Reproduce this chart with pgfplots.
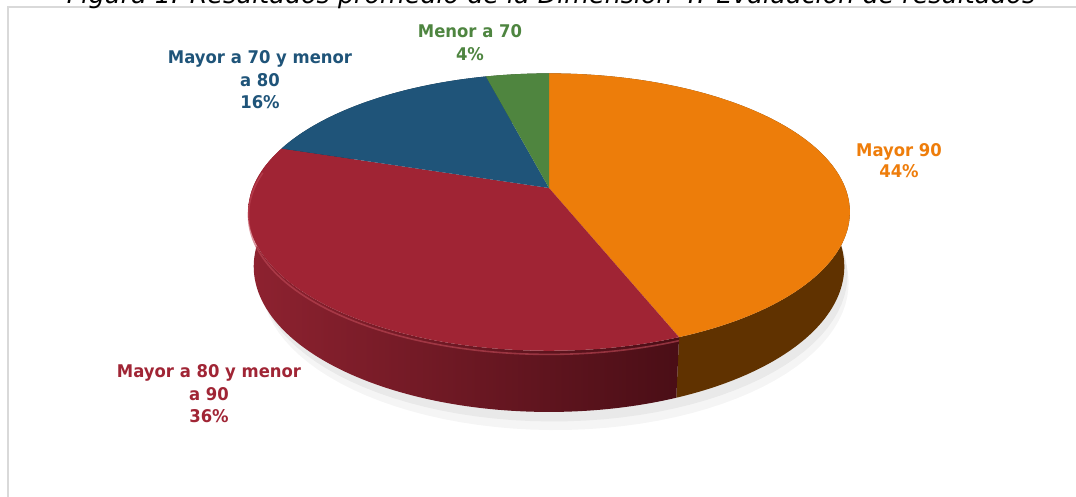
\documentclass[border=0pt]{standalone}
\usepackage{pgfplots}
\pgfplotsset{compat=1.18}
\usepackage{pgfplotstable}
\usepackage{fontspec}
\setmainfont{DejaVu Sans}
\newfontfamily\labfont[FakeStretch=0.94]{DejaVu Sans}
\definecolor{cOr}{HTML}{ED7D0A}
\definecolor{cOrSide}{HTML}{603200}
\definecolor{cRed}{HTML}{A02434}
\definecolor{cRedL}{HTML}{8E2230}
\definecolor{cRedD}{HTML}{4A0E16}
\definecolor{cRedHi}{HTML}{C04A58}
\definecolor{cBlue}{HTML}{1F5479}
\definecolor{cGreen}{HTML}{4F853F}
\definecolor{cFrame}{HTML}{D9D9D9}
\definecolor{tOr}{HTML}{EE7D0B}
\definecolor{tRed}{HTML}{A02535}
\definecolor{tBlue}{HTML}{1F5479}
\definecolor{tGreen}{HTML}{4E8540}
\tikzset{lab/.style={font=\labfont\bfseries\fontsize{8.75pt}{11pt}\selectfont, anchor=base, inner sep=0pt}}

% percentages, clockwise from 12 o'clock
\pgfplotstableread{
idx pct
0 44
1 36
2 16
3 4
}\piedata

\begin{document}
\begin{tikzpicture}
\pgfplotstablegetelem{0}{pct}\of\piedata \pgfmathsetmacro\pA{\pgfplotsretval}
\pgfplotstablegetelem{1}{pct}\of\piedata \pgfmathsetmacro\pB{\pgfplotsretval}
\pgfplotstablegetelem{2}{pct}\of\piedata \pgfmathsetmacro\pC{\pgfplotsretval}
\pgfplotstablegetelem{3}{pct}\of\piedata \pgfmathsetmacro\pD{\pgfplotsretval}
\pgfmathsetmacro\aZ{90}
\pgfmathsetmacro\aA{\aZ-3.6*\pA}
\pgfmathsetmacro\aB{\aA-3.6*\pB}
\pgfmathsetmacro\aC{\aB-3.6*\pC}
\pgfmathsetmacro\aD{\aC-3.6*\pD}
\begin{axis}[hide axis, scale only axis, width=538pt, height=248.5pt,
  xmin=0, xmax=1076, ymin=0, ymax=497, clip=false,
  declare function={
    rx(\p,\h)=549+1520*cos(\p)/(5.13+0.891*sin(\p)+0.454*\h);
    ry(\p,\h)=309+1520*(0.454*sin(\p)-0.891*\h)/(5.13+0.891*sin(\p)+0.454*\h);
    sp(\u,\a,\b)=\a+(\b-\a)*((\u<1.0001)?\u:min(1,(2-\u)*1.0101));
    sh(\u)=(\u<1.0001)?0:0.207;
  }]
\coordinate (SW) at (axis cs:0,0);
\coordinate (NE) at (axis cs:1076,497);
% frame
\draw[cFrame, line width=0.8pt] (axis cs:8,-20) -- (axis cs:8,490) -- (axis cs:1100,490);
% soft shadow
\addplot[draw=none, fill=black, opacity=0.04, domain=0:360, samples=120, variable=\t]
  ({rx(\t,0.27)+6},{ry(\t,0.27)}) -- cycle;
\addplot[draw=none, fill=black, opacity=0.05, domain=0:360, samples=120, variable=\t]
  ({rx(\t,0.24)+4},{ry(\t,0.24)}) -- cycle;
% sides
\addplot[draw=none, fill=cGreen!50!black, domain=0:2, samples=201, variable=\u]
  ({rx(sp(\u,\aD,\aC),sh(\u))},{ry(sp(\u,\aD,\aC),sh(\u))}) -- cycle;
\addplot[draw=none, fill=cBlue!50!black, domain=0:2, samples=201, variable=\u]
  ({rx(sp(\u,\aC,\aB),sh(\u))},{ry(sp(\u,\aC,\aB),sh(\u))}) -- cycle;
\addplot[draw=none, fill=cOrSide, domain=0:2, samples=201, variable=\u]
  ({rx(sp(\u,\aA,\aZ),sh(\u))},{ry(sp(\u,\aA,\aZ),sh(\u))}) -- cycle;
\addplot[draw=none, left color=cRedL, right color=cRedD, domain=0:2, samples=201, variable=\u]
  ({rx(sp(\u,\aB,\aA),sh(\u))},{ry(sp(\u,\aB,\aA),sh(\u))}) -- cycle;
% top faces
\addplot[draw=none, fill=cOr, domain=\aA:\aZ, samples=100, variable=\t]
  ({rx(\t,0)},{ry(\t,0)}) -- (axis cs:549,309) -- cycle;
\addplot[draw=none, fill=cRed, domain=\aB:\aA, samples=100, variable=\t]
  ({rx(\t,0)},{ry(\t,0)}) -- (axis cs:549,309) -- cycle;
\addplot[draw=none, fill=cBlue, domain=\aC:\aB, samples=50, variable=\t]
  ({rx(\t,0)},{ry(\t,0)}) -- (axis cs:549,309) -- cycle;
\addplot[draw=none, fill=cGreen, domain=\aD:\aC, samples=20, variable=\t]
  ({rx(\t,0)},{ry(\t,0)}) -- (axis cs:549,309) -- cycle;
% bevel highlight on front rim of red slice
\addplot[cRedHi, line width=0.8pt, opacity=0.6, domain=-188:\aA, samples=80, variable=\t]
  ({rx(\t,0.012)},{ry(\t,0.012)});
% title (cut by the top edge)
\node[anchor=base, inner sep=0pt, font=\fontsize{12.7pt}{14pt}\selectfont\itshape] at (axis cs:551,493.5) {Figura 1. Resultados promedio de la Dimensión 4: Evaluación de resultados};
% labels
\node[lab, text=tGreen] at (axis cs:470,459) {Menor a 70};
\node[lab, text=tGreen] at (axis cs:470,436) {4\%};
\node[lab, text=tBlue] at (axis cs:260,433) {Mayor a 70 y menor};
\node[lab, text=tBlue] at (axis cs:260,410) {a 80};
\node[lab, text=tBlue] at (axis cs:260,388) {16\%};
\node[lab, text=tOr] at (axis cs:899,340) {Mayor 90};
\node[lab, text=tOr] at (axis cs:899,319) {44\%};
\node[lab, text=tRed] at (axis cs:209,119) {Mayor a 80 y menor};
\node[lab, text=tRed] at (axis cs:209,96) {a 90};
\node[lab, text=tRed] at (axis cs:209,74) {36\%};
\end{axis}
\pgfresetboundingbox
\path[use as bounding box] (SW) rectangle (NE);
\end{tikzpicture}
\end{document}
